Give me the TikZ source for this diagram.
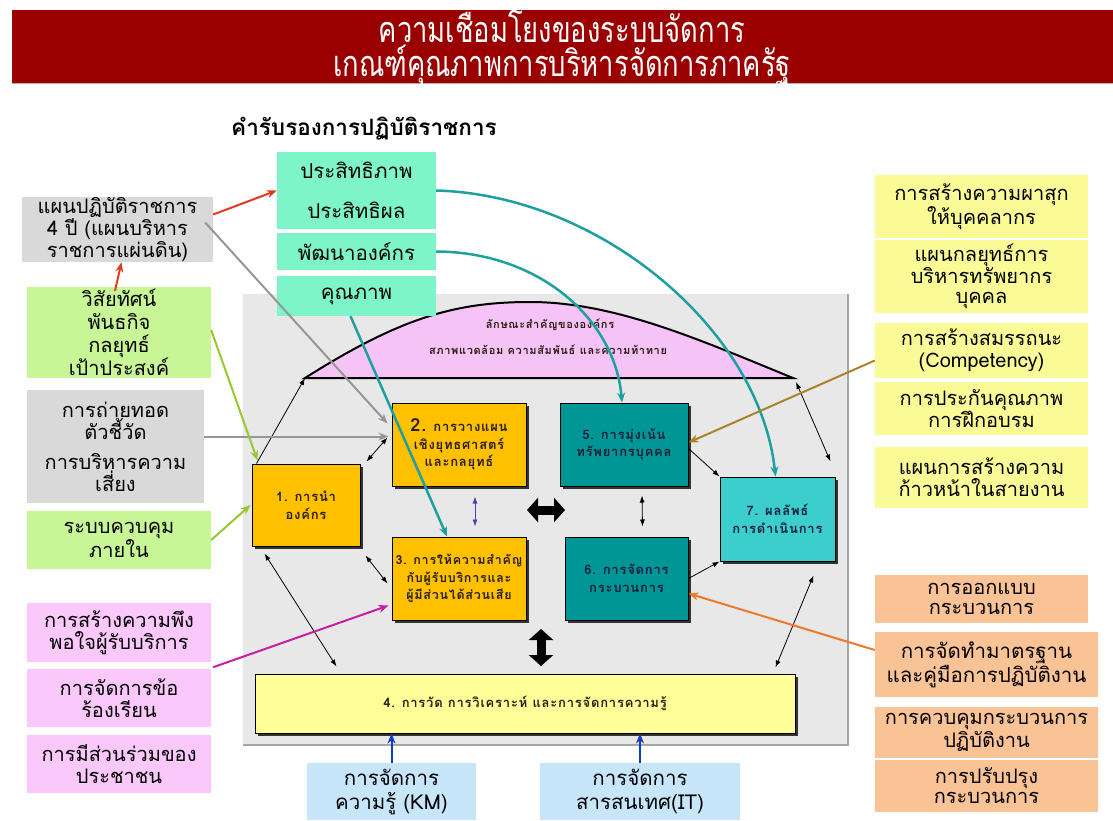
\documentclass[tikz,border=0pt]{standalone}
\usepackage{fontspec}
\setmainfont[Script=Thai]{Loma}
\newfontfamily\titlefont[Script=Thai,FakeStretch=0.76]{Loma}
\newfontfamily\boxfont[Script=Thai,LetterSpace=6]{Loma}
\usetikzlibrary{arrows.meta,shadows,calc}
\definecolor{bannerred}{RGB}{155,0,0}
\definecolor{cgray}{RGB}{217,217,217}
\definecolor{cgreen}{RGB}{200,245,150}
\definecolor{cpink}{RGB}{250,200,250}
\definecolor{caqua}{RGB}{125,245,200}
\definecolor{cyellow}{RGB}{250,250,150}
\definecolor{cpeach}{RGB}{250,195,150}
\definecolor{cblue}{RGB}{200,230,250}
\definecolor{corange}{RGB}{255,192,0}
\definecolor{cteal}{RGB}{0,150,150}
\definecolor{clteal}{RGB}{60,205,205}
\definecolor{clyel}{RGB}{255,255,153}
\definecolor{hillpink}{RGB}{245,195,245}
\definecolor{framegray}{RGB}{232,232,232}
\definecolor{boxtext}{RGB}{40,30,20}
\definecolor{tealtext}{RGB}{20,30,60}
\definecolor{arrred}{RGB}{225,60,30}
\definecolor{arrgray}{RGB}{150,150,150}
\definecolor{arrgreen}{RGB}{150,200,50}
\definecolor{arrmag}{RGB}{200,30,160}
\definecolor{arrteal}{RGB}{30,160,160}
\definecolor{arrbrown}{RGB}{170,130,40}
\definecolor{arrorange}{RGB}{240,120,40}
\definecolor{arrblue}{RGB}{20,60,200}
\definecolor{arrpurple}{RGB}{80,60,180}
\begin{document}
\begin{tikzpicture}[x=1pt,y=-1pt,
  sidebox/.style={rectangle,inner sep=0pt,align=center,font=\fontsize{20}{22}\selectfont},
  corebox/.style={rectangle,draw=black,line width=1pt,inner sep=0pt,align=center,
    font=\boxfont\bfseries\fontsize{13}{17.5}\selectfont,text=boxtext,
    drop shadow={shadow xshift=2.5pt,shadow yshift=-2.5pt,fill=black!80,opacity=1}},
  hilltext/.style={font=\boxfont\bfseries\fontsize{11}{13}\selectfont,text=boxtext,inner sep=0pt},
  colarr/.style={line width=2pt,-{Stealth[length=10pt,width=8pt]}},
  thinarr/.style={line width=0.8pt,{Latex[length=7pt,width=5pt]}-{Latex[length=7pt,width=5pt]}},
  thinone/.style={line width=0.8pt,-{Latex[length=7pt,width=5pt]}},
  bigarr/.style={line width=9pt,{Triangle[length=11pt,width=24pt]}-{Triangle[length=11pt,width=24pt]}}
]
\useasboundingbox (0,0) rectangle (1113,820);
\fill[white] (0,0) rectangle (1113,820);
% banner
\fill[bannerred] (12,10) rectangle (1113,83);
\draw[gray!60,line width=1pt] (12,83.5) -- (1113,83.5);
\node[text=white,align=center,font=\titlefont\fontsize{36}{34}\selectfont] (title) at (562,46)
  {ความเชื่อมโยงของระบบจัดการ\\เกณฑ์คุณภาพการบริหารจัดการภาครัฐ};
% frame
\fill[framegray] (243,294) rectangle (848,745);
\draw[gray!70,line width=1.5pt] (848,294) -- (848,745) -- (243,745);
% hill
\coordinate (hillL) at (305,378);
\coordinate (hillR) at (793,378);
\path[draw=black,line width=2pt,fill=hillpink] (hillL) .. controls (400,318) and (455,302) .. (530,302)
  .. controls (615,302) and (700,340) .. (hillR) -- cycle;
\node[hilltext] (h1) at (550,325) {ลักษณะสำคัญขององค์กร};
\node[hilltext] (h2) at (548,350) {สภาพแวดล้อม ความสัมพันธ์ และความท้าทาย};
% header
\node[font=\bfseries\fontsize{22.5}{24}\selectfont] (hdr) at (364,129) {คำรับรองการปฏิบัติราชการ};
% aqua boxes
\node[sidebox,fill=caqua,minimum width=159pt,minimum height=77pt,font=\fontsize{20.5}{22}\selectfont] (eff) at (356.5,190.5) {ประสิทธิภาพ\\[18pt]ประสิทธิผล};
\node[sidebox,fill=caqua,minimum width=159pt,minimum height=37pt,font=\fontsize{20.5}{22}\selectfont] (dev) at (356.5,251.5) {พัฒนาองค์กร};
\node[sidebox,fill=caqua,minimum width=159pt,minimum height=40pt,font=\fontsize{20.5}{22}\selectfont] (qual) at (356.5,296) {คุณภาพ};
% left boxes
\node[sidebox,fill=cgray,minimum width=191pt,minimum height=65pt,font=\fontsize{20}{17}\selectfont] (plan) at (117.5,229.5) {แผนปฏิบัติราชการ\\4 ปี (แผนบริหาร\\ราชการแผ่นดิน)};
\node[sidebox,fill=cgreen,minimum width=184pt,minimum height=91pt,font=\fontsize{20}{23}\selectfont] (vision) at (119,332.5) {วิสัยทัศน์\\พันธกิจ\\กลยุทธ์\\เป้าประสงค์};
\node[sidebox,fill=cgray,minimum width=177pt,minimum height=113pt] (transfer) at (115.5,446.5) {การถ่ายทอด\\ตัวชี้วัด\\[8pt]การบริหารความ\\เสี่ยง};
\node[sidebox,fill=cgreen,minimum width=184pt,minimum height=58pt] (internal) at (119,540) {ระบบควบคุม\\ภายใน};
\node[sidebox,fill=cpink,minimum width=184pt,minimum height=59pt] (pink1) at (119,632.5) {การสร้างความพึง\\พอใจผู้รับบริการ};
\node[sidebox,fill=cpink,minimum width=184pt,minimum height=58pt] (pink2) at (119,698) {การจัดการข้อ\\ร้องเรียน};
\node[sidebox,fill=cpink,minimum width=184pt,minimum height=58pt] (pink3) at (119,764) {การมีส่วนร่วมของ\\ประชาชน};
% right yellow boxes
\node[sidebox,fill=cyellow,minimum width=213pt,minimum height=63pt] (r1) at (981.5,206.5) {การสร้างความผาสุก\\ให้บุคคลากร};
\node[sidebox,fill=cyellow,minimum width=213pt,minimum height=73pt,font=\fontsize{20}{20}\selectfont] (r2) at (981.5,276.5) {แผนกลยุทธ์การ\\บริหารทรัพยากร\\บุคคล};
\node[sidebox,fill=cyellow,minimum width=213pt,minimum height=55pt] (r3) at (981.5,350.5) {การสร้างสมรรถนะ\\(Competency)};
\node[sidebox,fill=cyellow,minimum width=213pt,minimum height=53pt,font=\fontsize{20}{19}\selectfont] (r4) at (981.5,408.5) {การประกันคุณภาพ\\การฝึกอบรม};
\node[sidebox,fill=cyellow,minimum width=213pt,minimum height=61pt] (r5) at (981.5,477.5) {แผนการสร้างความ\\ก้าวหน้าในสายงาน};
% right peach boxes
\node[sidebox,fill=cpeach,minimum width=213pt,minimum height=48pt,font=\fontsize{20}{20}\selectfont] (p1) at (981.5,599) {การออกแบบ\\กระบวนการ};
\node[sidebox,fill=cpeach,minimum width=223pt,minimum height=65pt,font=\fontsize{20.5}{24}\selectfont] (p2) at (986.5,664.5) {การจัดทำมาตรฐาน\\และคู่มือการปฏิบัติงาน};
\node[sidebox,fill=cpeach,minimum width=223pt,minimum height=51pt,font=\fontsize{20}{20}\selectfont] (p3) at (986.5,732.5) {การควบคุมกระบวนการ\\ปฏิบัติงาน};
\node[sidebox,fill=cpeach,minimum width=223pt,minimum height=52pt,font=\fontsize{20}{20}\selectfont] (p4) at (986.5,786) {การปรับปรุง\\กระบวนการ};
% bottom blue boxes
\node[sidebox,fill=cblue,minimum width=169pt,minimum height=57pt,font=\fontsize{20.5}{24}\selectfont] (km) at (391.5,791.5) {การจัดการ\\ความรู้ (KM)};
\node[sidebox,fill=cblue,minimum width=200pt,minimum height=57pt,font=\fontsize{20.5}{24}\selectfont] (it) at (640,791.5) {การจัดการ\\สารสนเทศ(IT)};
% core boxes
\node[corebox,fill=corange,minimum width=108pt,minimum height=82pt] (b1) at (306,505) {1. การนำ\\องค์กร};
\node[corebox,fill=corange,minimum width=134pt,minimum height=83pt] (b2) at (459,444.5) {{\fontsize{18}{18}\selectfont 2.} การวางแผน\\เชิงยุทธศาสตร์\\และกลยุทธ์};
\node[corebox,fill=corange,minimum width=134pt,minimum height=83pt,font=\boxfont\bfseries\fontsize{12.5}{17.5}\selectfont] (b3) at (459,578.5) {3. การให้ความสำคัญ\\กับผู้รับบริการและ\\ผู้มีส่วนได้ส่วนเสีย};
\node[corebox,fill=cteal,text=tealtext,minimum width=128pt,minimum height=83pt] (b5) at (624,444.5) {5. การมุ่งเน้น\\ทรัพยากรบุคคล};
\node[corebox,fill=cteal,text=tealtext,minimum width=123pt,minimum height=83pt] (b6) at (626.5,578.5) {6. การจัดการ\\กระบวนการ};
\node[corebox,fill=clteal,text=tealtext,minimum width=115pt,minimum height=84pt] (b7) at (777.5,519) {7. ผลลัพธ์\\การดำเนินการ};
\node[corebox,fill=clyel,minimum width=540pt,minimum height=59pt] (b4) at (525,703.5) {4. การวัด การวิเคราะห์ และการจัดการความรู้};
% big arrows
\coordinate (hA) at (527,510);
\coordinate (hB) at (565,510);
\coordinate (vA) at (541,629);
\coordinate (vB) at (541,666);
\draw[bigarr] (hA) -- (hB);
\draw[bigarr] (vA) -- (vB);
% thin black arrows
\draw[thinarr] ([shift={(6pt,2pt)}]b1.north east) -- ([shift={(-4pt,7pt)}]b2.west);
\draw[thinone] ([xshift=5pt]b1.north west) -- (hillL);
\draw[thinarr] ([shift={(5pt,-9pt)}]b1.south east) -- ([shift={(-4pt,-5pt)}]b3.west);
\draw[thinarr] ([shift={(13pt,-7pt)}]b1.south west) -- ([shift={(82pt,7pt)}]b4.north west);
\draw[thinarr,arrpurple] ([shift={(16pt,-10pt)}]b2.south) -- ([shift={(16pt,10pt)}]b3.north);
\draw[thinarr] ([shift={(18pt,-9pt)}]b5.south) -- ([shift={(16pt,10pt)}]b6.north);
\draw[thinone] ([yshift=-4pt]b5.east) -- (b7.north west);
\draw[thinone] (b6.east) -- (b7.south west);
\draw[thinarr] ([shift={(3pt,-4pt)}]hillR) -- ([shift={(-5pt,15pt)}]b7.north east);
\draw[thinarr] ([shift={(-22pt,-14pt)}]b7.south east) -- ([shift={(-20pt,6pt)}]b4.north east);
% colored arrows
\draw[colarr,arrred] ([yshift=15pt]plan.east) -- (eff.west);
\draw[colarr,arrred] ([xshift=-4pt,yshift=-4pt]vision.north) -- ([xshift=4pt]plan.south);
\draw[colarr,arrgray] ([shift={(-8pt,7pt)}]plan.east) -- ([shift={(-4pt,21pt)}]b2.west);
\draw[colarr,arrgray] ([yshift=10pt]transfer.east) -- ([shift={(-3pt,8pt)}]b2.west);
\draw[colarr,arrgreen] ([yshift=2.5pt]vision.east) -- ([xshift=6pt,yshift=3pt]b1.north west);
\draw[colarr,arrgreen] (internal.east) -- ([xshift=-1pt]b1.west);
\draw[colarr,arrmag] ([shift={(2pt,-5pt)}]pink1.south east) -- ([shift={(-3pt,-27pt)}]b3.west);
\draw[colarr,arrteal,line width=2.5pt] (eff.east) .. controls (600,195) and (760,330) .. ([xshift=-2pt]b7.north);
\draw[colarr,arrteal,line width=2.5pt] (dev.east) .. controls (540,252) and (615,320) .. ([xshift=-2pt]b5.north);
\draw[colarr,arrteal,line width=2.5pt] ([xshift=-6pt]qual.south) -- ([xshift=-12pt]b3.north);
\draw[colarr,arrbrown] ([yshift=-10pt]r3.west) -- ([yshift=2pt]b5.east);
\draw[colarr,arrorange] ([yshift=14.5pt]p2.west) -- ([yshift=-15pt]b6.east);
\draw[colarr,arrblue] (km.north) -- (km.north |- b4.south);
\draw[colarr,arrblue] (it.north) -- (it.north |- b4.south);
\end{tikzpicture}
\end{document}
